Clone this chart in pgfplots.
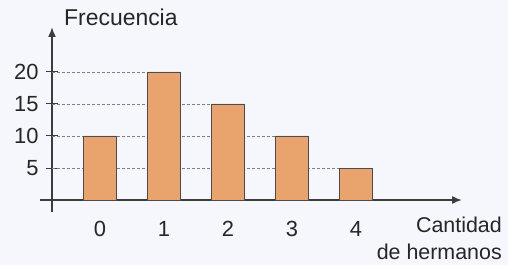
\documentclass[border=0pt]{standalone}
\usepackage{pgfplots}
\pgfplotsset{compat=1.18}
\usetikzlibrary{arrows.meta}
\usepackage{fontspec}
\setmainfont{Liberation Sans}
\definecolor{barfill}{RGB}{232,164,108}
\definecolor{bg}{RGB}{246,247,252}
\definecolor{axcol}{RGB}{60,60,60}
\begin{document}
\begin{tikzpicture}[x=1bp,y=1bp]
\fill[bg] (0,0) rectangle (508,265);
\path[use as bounding box] (0,0) rectangle (508,265);
\begin{axis}[
  at={(40bp,53bp)}, anchor=south west,
  scale only axis, width=422bp, height=185bp,
  xmin=-0.1875, xmax=6.406, ymin=-1.875, ymax=27.03,
  axis lines=middle,
  axis line style={axcol, line width=1.6bp, -{Latex[length=10bp,width=8bp]}},
  xtick={0.75,1.75,2.75,3.75,4.75},
  xticklabels={0,1,2,3,4},
  ytick={5,10,15,20},
  xtick style={draw=none},
  ytick style={axcol, line width=1bp},
  tick align=center,
  major tick length=12bp,
  /pgf/number format/assume math mode=true,
  tick label style={font=\fontsize{22}{26}\selectfont, text=black!85},
  xticklabel style={anchor=base, yshift=-30bp},
  yticklabel style={anchor=east, xshift=-4bp},
  clip=false,
]
\addplot[gray, line width=0.9bp, dash pattern=on 2.5bp off 2.5bp] coordinates {(0,20) (1.49,20)};
\addplot[gray, line width=0.9bp, dash pattern=on 2.5bp off 2.5bp] coordinates {(0,15) (2.49,15)};
\addplot[gray, line width=0.9bp, dash pattern=on 2.5bp off 2.5bp] coordinates {(0,10) (3.49,10)};
\addplot[gray, line width=0.9bp, dash pattern=on 2.5bp off 2.5bp] coordinates {(0,5) (4.49,5)};
\addplot[ybar, bar width=33bp, fill=barfill, draw=black!70, line width=0.9bp]
  coordinates {(0.75,10) (1.75,20) (2.75,15) (3.75,10) (4.75,5)};
\end{axis}
\node[anchor=base west, inner sep=0, font=\fontsize{23}{27}\selectfont, text=black!85] at (64,240) {Frecuencia};
\node[anchor=base east, inner sep=0, font=\fontsize{21.5}{25}\selectfont, text=black!85] at (502,33) {Cantidad};
\node[anchor=base east, inner sep=0, font=\fontsize{21.5}{25}\selectfont, text=black!85] at (502,6) {de hermanos};
\end{tikzpicture}
\end{document}
